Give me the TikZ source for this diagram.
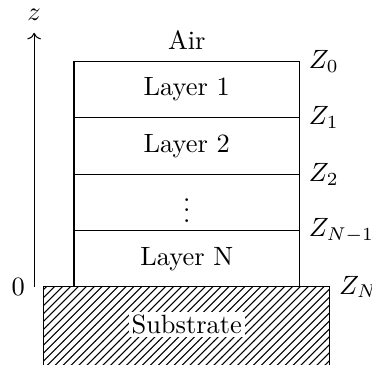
\documentclass[tikz,border=0pt]{standalone}
\usepackage{amsmath}
\usepackage{tikz}
\usetikzlibrary{arrows.meta,positioning,patterns}

\begin{document}
\begin{tikzpicture}[node distance=0pt,
 layer/.style={draw,minimum width=3cm,minimum height=0.75cm,outer sep=0pt,inner sep=0pt},
 zlab/.style={anchor=west}]
\useasboundingbox (-0.984,-1.037) rectangle (3.963,3.816);
% stack of layers
\node[layer] (l1) at (1.5,2.625) {Layer 1};
\node[layer,below=of l1] (l2) {Layer 2};
\node[layer,below=of l2] (l3) {$\vdots$};
\node[layer,below=of l3] (l4) {Layer N};
\node[above=1pt of l1] (air) {Air};
% substrate
\draw[pattern=north east lines] (-0.4,-1.3) rectangle (3.4,0);
\coordinate (subne) at (3.4,0);
\node[fill=white,inner sep=1pt] (sub) at (1.5,-0.5) {Substrate};
% interface labels
\node[zlab] (z0) at (l1.north east) {$Z_0$};
\node[zlab] (z1) at (l2.north east) {$Z_1$};
\node[zlab] (z2) at (l3.north east) {$Z_2$};
\node[zlab] (zn1) at (l4.north east) {$Z_{N-1}$};
\node[zlab] (zn) at (subne) {$Z_N$};
% axis
\coordinate (zbase) at (-0.53,0);
\coordinate (ztop) at (-0.53,3.38);
\draw[->] (zbase) -- (ztop);
\node[above=1pt of ztop] (zl) {$z$};
\node[anchor=east] (zero) at (zbase) {$0$};
\end{tikzpicture}
\end{document}
